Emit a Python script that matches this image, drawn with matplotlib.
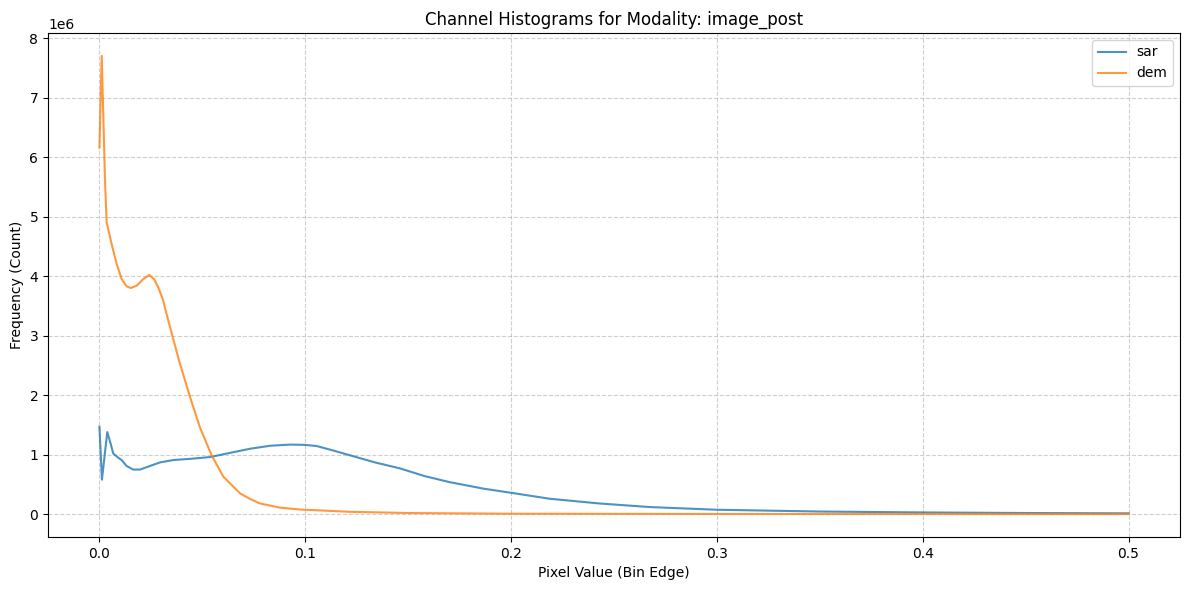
import matplotlib
matplotlib.use("Agg")
import matplotlib.pyplot as plt

sar_x = [0.0, 0.0012, 0.0038, 0.0054, 0.0067, 0.0091, 0.0108, 0.0132, 0.0164, 0.0197,
         0.0245, 0.0294, 0.0359, 0.044, 0.0537, 0.0634, 0.0732, 0.0829, 0.0926, 0.0995,
         0.1055, 0.1136, 0.1217, 0.1339, 0.146, 0.158, 0.170, 0.1865, 0.200, 0.2187,
         0.243, 0.2675, 0.300, 0.350, 0.400, 0.450, 0.500]
sar_y = [1.47e6, 0.58e6, 1.38e6, 1.19e6, 1.02e6, 0.95e6, 0.91e6, 0.81e6, 0.75e6, 0.75e6,
         0.81e6, 0.87e6, 0.91e6, 0.93e6, 0.96e6, 1.03e6, 1.10e6, 1.15e6, 1.17e6, 1.165e6,
         1.146e6, 1.07e6, 0.99e6, 0.87e6, 0.77e6, 0.64e6, 0.54e6, 0.43e6, 0.36e6, 0.26e6,
         0.18e6, 0.12e6, 0.075e6, 0.045e6, 0.03e6, 0.02e6, 0.015e6]

dem_x = [0.0, 0.0011, 0.0027, 0.0035, 0.0042, 0.0059, 0.0084, 0.0108, 0.0132, 0.0152,
         0.0181, 0.0213, 0.0242, 0.0265, 0.0286, 0.0307, 0.0343, 0.0391, 0.044, 0.0488,
         0.0545, 0.0602, 0.0683, 0.073, 0.078, 0.0877, 0.0975, 0.122, 0.150, 0.200,
         0.300, 0.400, 0.500]
dem_y = [6.16e6, 7.70e6, 5.60e6, 4.90e6, 4.80e6, 4.54e6, 4.20e6, 3.95e6, 3.83e6, 3.80e6,
         3.84e6, 3.95e6, 4.02e6, 3.95e6, 3.81e6, 3.62e6, 3.14e6, 2.53e6, 1.97e6, 1.46e6,
         0.99e6, 0.63e6, 0.35e6, 0.26e6, 0.18e6, 0.11e6, 0.079e6, 0.04e6, 0.02e6, 0.008e6,
         0.004e6, 0.003e6, 0.002e6]

fig, ax = plt.subplots(figsize=(11.9, 5.9), dpi=100)
ax.plot(sar_x, sar_y, label="sar", alpha=0.8)
ax.plot(dem_x, dem_y, label="dem", alpha=0.8)
ax.set_title("Channel Histograms for Modality: image_post")
ax.set_xlabel("Pixel Value (Bin Edge)")
ax.set_ylabel("Frequency (Count)")
ax.grid(True, linestyle="--", alpha=0.6)
ax.legend(loc="upper right")
fig.subplots_adjust(left=48 / 1190, right=1180 / 1190, bottom=1 - 537 / 590, top=1 - 33 / 590)
fig.savefig("out.png")
